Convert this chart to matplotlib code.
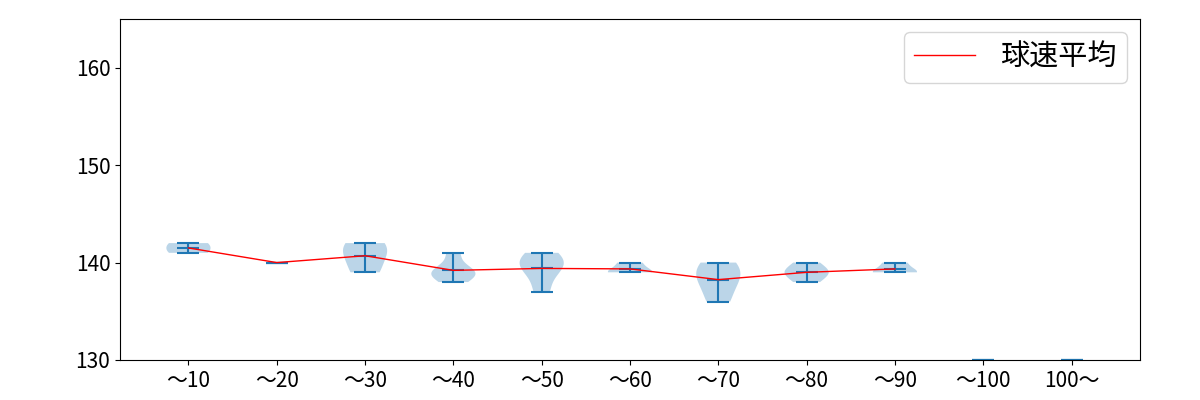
import matplotlib
matplotlib.use("Agg")
import matplotlib.pyplot as plt
import numpy as np

plt.rcParams['font.family'] = ['Noto Sans CJK JP', 'DejaVu Sans']

categories = ["〜10", "〜20", "〜30", "〜40", "〜50", "〜60", "〜70", "〜80", "〜90", "〜100", "100〜"]
speeds = [
    [141, 142],
    [140],
    [139, 141, 142],
    [138, 139, 139, 139, 141],
    [137, 139, 140, 140, 141],
    [139, 139, 140],
    [136, 138, 139, 140],
    [138, 139, 139, 140],
    [139, 139, 140],
    [130],
    [130],
]
mean_speed = [141.5, 140.0, 140.7, 139.2, 139.4, 139.35, 138.25, 139.0, 139.35, np.nan, np.nan]

fig = plt.figure(figsize=(12, 4), dpi=100)
ax = fig.add_axes([0.1, 0.1, 0.85, 0.8525])
positions = np.arange(1, len(categories) + 1)
ax.violinplot(speeds, positions=positions, showmeans=True)
ax.plot(positions, mean_speed, color='red', linewidth=1, label='球速平均')
ax.set_xticks(positions)
ax.set_xticklabels(categories)
ax.tick_params(axis='both', labelsize=15)
ax.set_ylim(130, 165)
ax.set_yticks([130, 140, 150, 160])
ax.legend(loc='upper right', fontsize=21, handlelength=2.1, handletextpad=0.85,
          borderpad=0.35, borderaxespad=0.45)
fig.savefig("out.png", dpi=100)
